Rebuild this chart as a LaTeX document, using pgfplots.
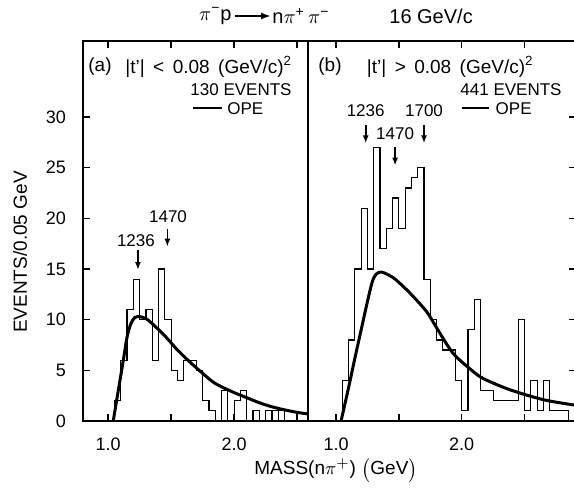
\documentclass[border=0pt]{standalone}
\usepackage{fontspec}
\setmainfont{Liberation Sans}
\usepackage{pgfplots}
\pgfplotsset{compat=1.18}
\usetikzlibrary{arrows.meta}
\newcommand{\px}[2]{({#1*0.5pt},{(493-#2)*0.5pt})}
\tikzset{pk/.style={-{Latex[length=4pt,width=3pt]}, line width=0.9pt}}
\pgfplotsset{
  panel/.style={
    scale only axis, height=190pt, ymin=0, ymax=37.5,
    axis line style={line width=0.8pt},
    tick style={line width=0.7pt, black},
    tick align=inside, major tick length=3.5pt,
    xtick={1,1.5,2,2.5}, xticklabels={1.0,,2.0,},
    xtick pos=both,
    /pgf/number format/assume math mode=true,
    ticklabel style={font=\fontsize{9}{10}\selectfont},
    xticklabel style={yshift=-5pt},
    yticklabel style={xshift=-5pt},
    clip=false,
  },
  hist/.style={const plot, no marks, black, line width=0.6pt},
  ope/.style={smooth, tension=0.5, no marks, black, line width=1.5pt},
}
\begin{document}
\begin{tikzpicture}
\path[use as bounding box] (0,0) rectangle (287pt,246.5pt);
% ---------------- left panel ----------------
\begin{axis}[panel, at={(41.5pt,36pt)}, anchor=south west, width=112.5pt,
  xmin=0.80, xmax=2.586, ytick={0,5,10,15,20,25,30}, ytick pos=left]
\addplot[hist] coordinates {
(1.05,0) (1.05,2) (1.10,6) (1.15,11) (1.20,14) (1.25,10) (1.30,11) (1.35,6)
(1.40,15) (1.45,10) (1.50,5) (1.55,4) (1.60,6) (1.65,6) (1.70,5) (1.75,2)
(1.80,1) (1.85,0) (1.90,3) (1.95,0) (2.00,2) (2.05,3) (2.10,0) (2.15,1)
(2.20,0) (2.25,1) (2.30,0) (2.30,1) (2.35,0) (2.35,1) (2.40,0)};
\addplot[ope] coordinates {
(1.04,0) (1.08,3.0) (1.12,6.0) (1.15,8.3) (1.18,9.6) (1.21,10.2) (1.25,10.3)
(1.30,10.1) (1.35,9.6) (1.45,8.4) (1.55,7.0) (1.65,5.8) (1.75,4.7) (1.85,3.7)
(2.00,2.8) (2.10,2.3) (2.20,1.8) (2.30,1.4) (2.40,1.1) (2.50,0.85) (2.586,0.7)};
\draw[pk] (axis cs:1.236,16.9) -- (axis cs:1.236,14.9);
\node[font=\fontsize{8.5}{10}\selectfont] at (axis cs:1.22,17.8) {1236};
\draw[pk] (axis cs:1.47,18.9) -- (axis cs:1.47,17.2);
\node[font=\fontsize{8.5}{10}\selectfont] at (axis cs:1.475,20.2) {1470};
\end{axis}
% ---------------- right panel ----------------
\begin{axis}[panel, at={(154pt,36pt)}, anchor=south west, width=134pt,
  xmin=0.777, xmax=2.909, ytick={5,10,15,20,25,30}, yticklabels={},
  ytick pos=right]
\addplot[hist] coordinates {
(1.05,0) (1.05,4) (1.10,8) (1.15,15) (1.20,21) (1.25,15) (1.30,27) (1.35,17)
(1.40,19) (1.45,22) (1.50,19) (1.55,23) (1.60,24) (1.65,25) (1.70,14) (1.75,10)
(1.80,8) (1.85,7) (1.90,7) (1.95,4) (2.00,1) (2.05,9) (2.10,12) (2.15,3)
(2.20,3) (2.25,2) (2.30,2) (2.35,2) (2.40,2) (2.45,10) (2.50,1) (2.55,4)
(2.60,1) (2.65,4) (2.70,1) (2.75,1) (2.80,1) (2.85,0)};
\addplot[ope] coordinates {
(1.04,0) (1.10,3.3) (1.15,6.2) (1.20,9.0) (1.25,11.8) (1.29,13.8) (1.32,14.5)
(1.36,14.7) (1.42,14.4) (1.48,13.9) (1.59,12.6) (1.72,10.8) (1.80,9.2)
(1.93,6.7) (2.07,5.1) (2.17,4.2) (2.38,3.1) (2.65,2.1) (2.909,1.55)};
\draw[pk] (axis cs:1.236,29.2) -- (axis cs:1.236,27.4);
\draw[pk] (axis cs:1.70,29.2) -- (axis cs:1.70,27.4);
\draw[pk] (axis cs:1.47,27.0) -- (axis cs:1.47,25.2);
\node[font=\fontsize{8.5}{10}\selectfont] at (axis cs:1.236,30.6) {1236};
\node[font=\fontsize{8.5}{10}\selectfont] at (axis cs:1.70,30.6) {1700};
\node[font=\fontsize{8.5}{10}\selectfont] at (axis cs:1.47,28.4) {1470};
\end{axis}
% ---------------- texts ----------------
\begin{scope}[every node/.style={font=\fontsize{8.5}{10}\selectfont, inner sep=0pt}]
\node[anchor=west, font=\fontsize{9.5}{11}\selectfont] at \px{88}{67} {(a)};
\node[anchor=west, font=\fontsize{9.5}{11}\selectfont] at \px{125}{67} {|t'|\, < \,0.08 \,(GeV/c)\textsuperscript{2}};
\node[anchor=east] at \px{292}{90} {130 EVENTS};
\draw[line width=0.9pt] \px{193}{108} -- \px{222}{108};
\node[anchor=west] at \px{227}{109} {OPE};
\node[anchor=west, font=\fontsize{9.5}{11}\selectfont] at \px{318}{67} {(b)};
\node[anchor=east, font=\fontsize{9.5}{11}\selectfont] at \px{534}{67} {|t'|\, > \,0.08 \,(GeV/c)\textsuperscript{2}};
\node[anchor=east] at \px{562}{90} {441 EVENTS};
\draw[line width=0.9pt] \px{462}{108} -- \px{489}{108};
\node[anchor=east] at \px{532}{109} {OPE};
\end{scope}
\begin{scope}[every node/.style={font=\fontsize{10}{12}\selectfont, inner sep=0pt}]
\node[anchor=east] at \px{232}{16} {$\pi$\textsuperscript{−}p};
\draw[-{Latex[length=5pt,width=3.5pt]}, line width=0.9pt] \px{235}{16} -- \px{271}{16};
\node[anchor=west] at \px{272}{16} {n$\pi$\textsuperscript{+}\,$\pi$\textsuperscript{−}};
\node[anchor=west] at \px{389}{16} {16 GeV/c};
\end{scope}
\node[rotate=90, font=\fontsize{9.5}{11}\selectfont] at \px{20}{252} {EVENTS/0.05 GeV};
\node[font=\fontsize{9.5}{11}\selectfont] at \px{336}{470} {MASS(n$\pi^{+}$) $\bigl($GeV$\bigr)$};
\end{tikzpicture}
\end{document}
